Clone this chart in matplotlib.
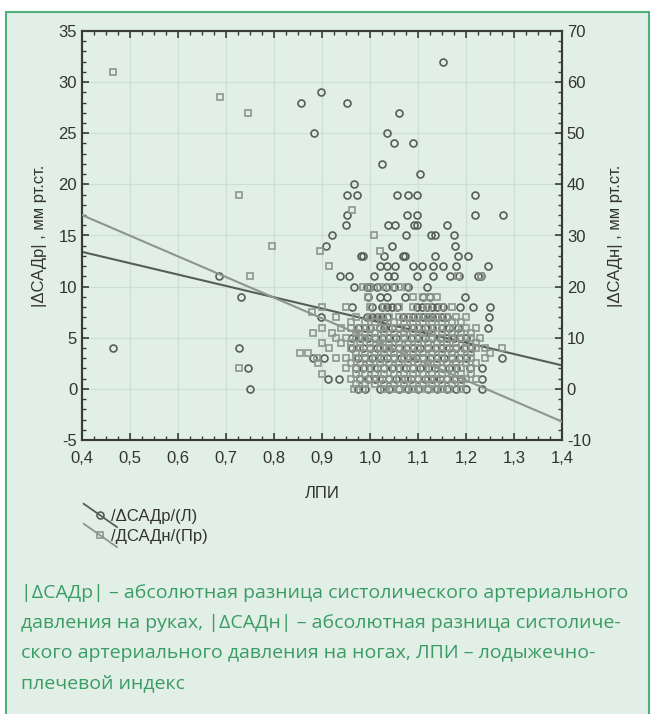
import matplotlib
matplotlib.use('Agg')
import matplotlib.pyplot as plt
import numpy as np
from matplotlib.lines import Line2D
from matplotlib.patches import Rectangle
from matplotlib.legend_handler import HandlerBase
from matplotlib.ticker import MultipleLocator, FuncFormatter

plt.rcParams['font.family'] = ['Liberation Sans', 'DejaVu Sans']
plt.rcParams['font.size'] = 12

# |ΔСАДр| (left axis, circles): row value -> ЛПИ values
arm_rows = {
    32: [1.152],
    29: [0.897],
    28: [0.856, 0.952],
    27: [1.06],
    25: [0.883, 1.035],
    24: [1.049, 1.09],
    22: [1.025],
    21: [1.105],
    20: [0.967],
    19: [0.952, 0.973, 1.056, 1.08, 1.098, 1.219],
    17: [0.952, 1.077, 1.098, 1.219, 1.278],
    16: [0.949, 1.038, 1.052, 1.092, 1.097, 1.16],
    15: [0.921, 1.076, 1.128, 1.135, 1.174],
    14: [0.908, 1.046, 1.177],
    13: [0.982, 0.986, 1.029, 1.069, 1.073, 1.135, 1.184, 1.205],
    12: [1.021, 1.035, 1.052, 1.09, 1.108, 1.132, 1.153, 1.18, 1.246],
    11: [0.686, 0.937, 0.956, 1.008, 1.038, 1.05, 1.097, 1.132, 1.167, 1.185, 1.226, 1.232],
    10: [0.967, 0.993, 0.999, 1.015, 1.033, 1.05, 1.08, 1.118],
    9: [0.731, 0.995, 1.021, 1.035, 1.073, 1.11, 1.125, 1.198],
    8: [0.963, 1.005, 1.024, 1.035, 1.045, 1.056, 1.097, 1.108, 1.118, 1.129,
        1.139, 1.153, 1.188, 1.215, 1.249],
    7: [0.897, 0.994, 1.004, 1.014, 1.025, 1.035, 1.069, 1.08, 1.09, 1.1, 1.11,
        1.12, 1.13, 1.14, 1.15, 1.16, 1.247],
    6: [0.975, 0.99, 1.0, 1.02, 1.03, 1.045, 1.06, 1.075, 1.09, 1.1, 1.115,
        1.13, 1.149, 1.165, 1.184, 1.246],
    5: [0.962, 0.98, 0.995, 1.01, 1.025, 1.04, 1.055, 1.07, 1.085, 1.1, 1.115,
        1.13, 1.145, 1.16, 1.175, 1.188, 1.2],
    4: [0.465, 0.728, 0.962, 0.986, 1.0, 1.015, 1.03, 1.045, 1.06, 1.075, 1.09,
        1.105, 1.12, 1.135, 1.15, 1.165, 1.18, 1.195, 1.21],
    3: [0.881, 0.904, 0.975, 0.99, 1.005, 1.02, 1.035, 1.05, 1.065, 1.08, 1.095,
        1.11, 1.125, 1.14, 1.155, 1.17, 1.185, 1.2, 1.274],
    2: [0.745, 0.97, 0.985, 1.0, 1.015, 1.03, 1.045, 1.06, 1.075, 1.09, 1.105,
        1.12, 1.135, 1.15, 1.165, 1.18, 1.208, 1.233],
    1: [0.913, 0.936, 0.98, 0.995, 1.01, 1.025, 1.04, 1.055, 1.07, 1.085, 1.1,
        1.115, 1.13, 1.145, 1.16, 1.175, 1.19, 1.233],
    0: [0.749, 0.975, 0.99, 1.02, 1.04, 1.06, 1.08, 1.1, 1.12, 1.14, 1.16,
        1.18, 1.2, 1.233],
}

# |ΔСАДн| (right axis, squares): row value -> ЛПИ values
leg_rows = {
    62: [0.465],
    57: [0.687],
    54: [0.745],
    38: [0.727],
    35: [0.962],
    30: [1.008],
    28: [0.796],
    27: [0.896, 1.021],
    24: [0.915],
    22: [0.749, 1.184, 1.232],
    20: [0.985, 1.0, 1.02, 1.04, 1.06, 1.077],
    18: [0.996, 1.09, 1.11, 1.125, 1.14],
    16: [0.9, 0.95, 1.0, 1.03, 1.06, 1.09, 1.12, 1.15, 1.17],
    15: [0.88],
    14: [0.93, 0.97, 1.0, 1.02, 1.04, 1.06, 1.08, 1.1, 1.12, 1.14, 1.16, 1.18, 1.2],
    13: [0.96, 0.99, 1.01, 1.03, 1.05, 1.07, 1.09, 1.11, 1.13, 1.15, 1.17, 1.19],
    12: [0.9, 0.94, 0.96, 0.98, 1.0, 1.02, 1.04, 1.06, 1.08, 1.1, 1.12, 1.14,
         1.16, 1.18, 1.2, 1.22],
    11: [0.882, 0.92, 0.97, 0.99, 1.01, 1.03, 1.05, 1.07, 1.09, 1.11, 1.13,
         1.15, 1.17, 1.19, 1.21],
    10: [0.93, 0.95, 0.97, 0.99, 1.01, 1.03, 1.05, 1.07, 1.09, 1.11, 1.13, 1.15,
         1.17, 1.19, 1.21, 1.23],
    9: [0.9, 0.94, 0.96, 0.98, 1.0, 1.02, 1.04, 1.06, 1.08, 1.1, 1.12, 1.14,
        1.16, 1.18, 1.2, 1.22],
    8: [0.915, 0.96, 0.98, 1.0, 1.02, 1.04, 1.06, 1.08, 1.1, 1.12, 1.14, 1.16,
        1.18, 1.2, 1.22, 1.24, 1.274],
    7: [0.854, 0.87, 0.97, 0.99, 1.01, 1.03, 1.05, 1.07, 1.09, 1.11, 1.13,
        1.15, 1.17, 1.19, 1.21, 1.25],
    6: [0.89, 0.93, 0.95, 0.97, 0.99, 1.01, 1.03, 1.05, 1.07, 1.09, 1.11, 1.13,
        1.15, 1.17, 1.19, 1.21, 1.24],
    5: [0.892, 0.96, 0.98, 1.0, 1.02, 1.04, 1.06, 1.08, 1.1, 1.12, 1.14, 1.16,
        1.18, 1.2, 1.22],
    4: [0.727, 0.95, 0.97, 0.99, 1.01, 1.03, 1.05, 1.07, 1.09, 1.11, 1.13, 1.15,
        1.17, 1.19, 1.21],
    3: [0.9, 0.97, 0.99, 1.01, 1.03, 1.05, 1.07, 1.09, 1.11, 1.13, 1.15, 1.17,
        1.19, 1.21],
    2: [0.96, 0.98, 1.0, 1.02, 1.04, 1.06, 1.08, 1.1, 1.12, 1.14, 1.16, 1.18,
        1.2, 1.22],
    1: [0.97, 0.99, 1.01, 1.03, 1.05, 1.07, 1.09, 1.11, 1.13, 1.15, 1.17, 1.19],
    0: [0.967, 0.985, 1.03, 1.045, 1.06, 1.075, 1.09, 1.105, 1.12, 1.135, 1.15,
        1.165, 1.19],
}

# regression lines (ends at ЛПИ 0,4 and 1,4)
fit_x = [0.4, 1.4]
arm_fit = [13.4, 2.3]
leg_fit = [34.0, -6.4]

caption_lines = [
    '|ΔСАДр| – абсолютная разница систолического артериального',
    'давления на руках, |ΔСАДн| – абсолютная разница систоличе-',
    'ского артериального давления на ногах, ЛПИ – лодыжечно-',
    'плечевой индекс',
]


def expand(rows):
    xs, ys = [], []
    for val, lst in rows.items():
        xs += lst
        ys += [val] * len(lst)
    return np.array(xs), np.array(ys)


arm_x, arm_y = expand(arm_rows)
leg_x, leg_y = expand(leg_rows)

panel_bg = '#e1efe7'
green = '#3a9c62'
dark = '#575d5a'
light = '#8d9591'
txt = '#333333'

fig = plt.figure(figsize=(6.54, 7.14), dpi=100)
fig.patch.set_facecolor('white')
fig.add_artist(Rectangle((6 / 654, -0.01), 643 / 654, 1 - 12 / 714 + 0.01,
                         transform=fig.transFigure, facecolor=panel_bg,
                         edgecolor='#4fae7c', linewidth=1.5, zorder=0))

ax = fig.add_axes([82 / 654, 1 - 440 / 714, 480 / 654, 409 / 714])
ax.set_facecolor('none')
ax2 = ax.twinx()
ax2.set_facecolor('none')

ax.plot(arm_x, arm_y, linestyle='none', marker='o', ms=5, mfc='none',
        mec=dark, mew=1.2, zorder=3)
ax.plot(fit_x, arm_fit, color=dark, lw=1.5, zorder=4)
ax2.plot(leg_x, leg_y, linestyle='none', marker='s', ms=5, mfc='none',
         mec=light, mew=1.2, zorder=3)
ax2.plot(fit_x, leg_fit, color=light, lw=1.5, zorder=4)

ax.set_xlim(0.4, 1.4)
ax.set_ylim(-5, 35)
ax2.set_ylim(-10, 70)
ax.xaxis.set_major_locator(MultipleLocator(0.1))
ax.xaxis.set_minor_locator(MultipleLocator(0.025))
ax.yaxis.set_major_locator(MultipleLocator(5))
ax.yaxis.set_minor_locator(MultipleLocator(1))
ax2.yaxis.set_major_locator(MultipleLocator(10))
ax2.yaxis.set_minor_locator(MultipleLocator(2))
ax.xaxis.set_major_formatter(FuncFormatter(lambda v, p: f'{v:.1f}'.replace('.', ',')))
ax.yaxis.set_major_formatter(FuncFormatter(lambda v, p: f'{v:g}'))
ax2.yaxis.set_major_formatter(FuncFormatter(lambda v, p: f'{v:g}'))

ax.grid(True, which='major', color='#cddfd4', lw=0.8)
ax.set_axisbelow(True)
for a in (ax, ax2):
    for s in a.spines.values():
        s.set_color('#3a3a3a')
        s.set_linewidth(1.5)
ax.tick_params(which='both', direction='in', top=True, colors='#3a3a3a',
               labelcolor=txt, labelsize=12)
ax.tick_params(which='major', length=5, width=1.2)
ax.tick_params(which='minor', length=3, width=1)
ax2.tick_params(which='both', direction='in', colors='#3a3a3a',
                labelcolor=txt, labelsize=12)
ax2.tick_params(which='major', length=5, width=1.2)
ax2.tick_params(which='minor', length=3, width=1)
ax.tick_params(axis='x', pad=8)

ax.set_xlabel('ЛПИ', color=txt, fontsize=12, labelpad=14)
ax.set_ylabel('|ΔСАДр| , мм рт.ст.', color=txt, fontsize=12, labelpad=8)
ax2.set_ylabel('|ΔСАДн| , мм рт.ст.', color=txt, fontsize=12, labelpad=12,
               rotation=90)


class DiagHandler(HandlerBase):
    def create_artists(self, legend, orig_handle, xdescent, ydescent,
                       width, height, fontsize, trans):
        c = orig_handle.get_markeredgecolor()
        ln = Line2D([-xdescent, width - xdescent],
                    [height + 0.45 * height, -0.55 * height],
                    color=c, lw=1.3, transform=trans)
        mk = Line2D([width / 2 - xdescent], [height / 2 - ydescent],
                    marker=orig_handle.get_marker(), ms=5, mfc='none',
                    mec=c, mew=1.2, linestyle='none', transform=trans)
        return [ln, mk]


h1 = Line2D([], [], marker='o', mec=dark, linestyle='none')
h2 = Line2D([], [], marker='s', mec=light, linestyle='none')
leg = fig.legend([h1, h2], ['/ΔСАДр/(Л)', '/ДСАДн/(Пр)'],
                 handler_map={Line2D: DiagHandler()},
                 loc='upper left', bbox_to_anchor=(72 / 654, 1 - 497 / 714),
                 frameon=False, fontsize=12, handlelength=2.0,
                 handletextpad=-0.35, labelspacing=0.3, borderpad=0.2)
for t in leg.get_texts():
    t.set_color(txt)

for i, line in enumerate(caption_lines):
    fig.text(21 / 654, 1 - (593 + 30 * i) / 714, line, color=green,
             fontsize=14, va='center', ha='left',
             family=['Open Sans', 'DejaVu Sans'])

fig.savefig('out.png', dpi=100)
